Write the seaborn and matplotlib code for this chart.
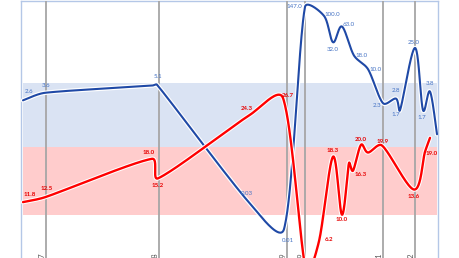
import numpy as np
import matplotlib
matplotlib.use("Agg")
import matplotlib.pyplot as plt
import matplotlib.patheffects as pe
import seaborn as sns

# ---------------- data ----------------
tsh_x = [2, 24, 131, 136, 229, 263, 284, 303, 312, 321, 333, 347, 362, 375, 379, 394, 402, 409, 416]
tsh_val = [2.6, 3.6, 4.9, 5.1, 0.03, 0.01, 147.0, 100.0, 32.0, 63.0, 18.0, 10.0, 2.3, 2.8, 1.7, 25.0, 1.7, 3.8, 0.6]
tsh_lbl = ["2.6", "3.6", "", "5.1", "0.03", "0.01", "147.0", "100.0", "32.0", "63.0", "18.0",
           "10.0", "2.3", "2.8", "1.7", "25.0", "1.7", "3.8", ""]

ft4_x = [2, 24, 131, 137, 229, 262, 285, 298, 312, 321, 328, 332, 340, 347, 361, 393, 404, 409]
ft4_val = [11.8, 12.5, 18.0, 15.2, 24.3, 26.7, 2.0, 6.2, 18.3, 10.0, 17.4, 16.3, 20.0, 18.9, 19.9, 13.6, 19.0, 21.0]
ft4_lbl = ["11.8", "12.5", "18.0", "15.2", "24.3", "26.7", "", "6.2", "18.3", "10.0", "",
           "16.3", "20.0", "", "19.9", "13.6", "19.0", ""]

tsh_range = [0.35, 5.5]
ft4_range = [10.0, 19.8]

event_x = [25, 138, 266, 284, 362, 394]
event_lbl = ["2017", "2018", "2019", "2019", "2021", "2022"]

# ---------------- layout / style ----------------
tsh_lbl_off = [(6, -9), (1, -7.5), (0, 0), (1, -8), (-3, -10), (4, 11), (-11, 0), (8, -1), (0, 7),
               (7, -2), (8, 0), (8, 0), (-6, 2), (0, -8), (-4, 4), (-1, -5), (-1, 7), (0, -8), (0, 0)]
ft4_lbl_off = [(7, -7.5), (1.5, -9), (-3, -6), (0, 7), (-3, -6), (5, -3), (0, 0), (10, -1.5),
               (0, -6), (0, 5), (0, 0), (8, 4), (0, -5), (0, 0), (1, -4), (0, 7), (6.5, 2), (0, 0)]

BLUE = "#1f49a6"
BLUE_TXT = "#4472c4"
RED = "#ff0000"
RED_TXT = "#e60000"
BAND_BLUE = "#dae3f3"
BAND_RED = "#ffcccc"
GRID = "#a6a6a6"
FRAME = "#b4c7e7"

sns.set_theme(style="white")
plt.rcParams["font.family"] = ["Lato", "DejaVu Sans"]

fig = plt.figure(figsize=(4.6, 2.58), dpi=100)
ax_band = fig.add_axes([21 / 460, 0, 417 / 460, 257.5 / 258])
ax_b = ax_band.twinx()
ax_r = ax_band.twinx()

xlim = (0, 417)
red_lim = (3.8, 40.66)
blue_lim = (10 ** -2.543, 10 ** 2.288)

for a in (ax_band, ax_b, ax_r):
    a.set_xlim(*xlim)
    a.set_yticks([])
    for s in a.spines.values():
        s.set_visible(False)
ax_band.set_ylim(*red_lim)
ax_r.set_ylim(*red_lim)
ax_b.set_yscale("log")
ax_b.set_ylim(*blue_lim)
ax_b.yaxis.set_minor_locator(matplotlib.ticker.NullLocator())
ax_b.set_yticks([])

for side in ("left", "right", "top"):
    ax_band.spines[side].set_visible(True)
    ax_band.spines[side].set_color(FRAME)
    ax_band.spines[side].set_linewidth(1.0)

# bands
ax_band.fill_between([min(tsh_x), max(tsh_x)], ft4_range[0], ft4_range[1],
                     color=BAND_RED, lw=0, zorder=1)
ax_b.fill_between([min(tsh_x), max(tsh_x)], tsh_range[0], tsh_range[1],
                  color=BAND_BLUE, lw=0, zorder=1)

# event lines (on top of both bands)
for ex in event_x:
    ax_b.axvline(ex, color=GRID, lw=1.3, zorder=1.5)

# x tick labels (cut by the figure edge, as in the reference)
ax_band.set_xticks(event_x)
ax_band.set_xticklabels(event_lbl, rotation=90, ha="right", va="top",
                        fontsize=5.5, color="#595959")
ax_band.tick_params(axis="x", length=0, pad=-4.3)


def smooth(ax, xs, ys, n=40):
    """Smoothed (Bezier) rendering of a polyline, computed in display space."""
    pts = ax.transData.transform(np.column_stack([xs, ys]).astype(float))
    out = [pts[:1]]
    N = len(pts)
    for i in range(N - 1):
        p0 = pts[i - 1] if i > 0 else pts[i]
        p1, p2 = pts[i], pts[i + 1]
        p3 = pts[i + 2] if i + 2 < N else pts[i + 1]
        L = np.linalg.norm(p2 - p1)
        v1 = (p2 - p0) / 6.0
        v2 = (p3 - p1) / 6.0
        lim = L / 3.0
        n1, n2 = np.linalg.norm(v1), np.linalg.norm(v2)
        if n1 > lim:
            v1 = v1 * lim / n1
        if n2 > lim:
            v2 = v2 * lim / n2
        c1 = p1 + v1
        c2 = p2 - v2
        t = np.linspace(0, 1, n)[1:, None]
        seg = (1 - t) ** 3 * p1 + 3 * (1 - t) ** 2 * t * c1 + 3 * (1 - t) * t ** 2 * c2 + t ** 3 * p2
        out.append(seg)
    arr = np.vstack(out)
    return ax.transData.inverted().transform(arr)


halo = [pe.Stroke(linewidth=3.2, foreground="white"), pe.Normal()]

sb = smooth(ax_b, tsh_x, tsh_val)
sns.lineplot(x=sb[:, 0], y=sb[:, 1], ax=ax_b, sort=False, estimator=None,
             color=BLUE, lw=1.5, zorder=3, path_effects=halo)
sr = smooth(ax_r, ft4_x, ft4_val)
sns.lineplot(x=sr[:, 0], y=sr[:, 1], ax=ax_r, sort=False, estimator=None,
             color=RED, lw=1.7, zorder=3, path_effects=halo)

for x, v, t, (dx, dy) in zip(tsh_x, tsh_val, tsh_lbl, tsh_lbl_off):
    if t:
        ax_b.annotate(t, (x, v), xytext=(dx, -dy), textcoords="offset pixels",
                      ha="center", va="center", fontsize=4.4, color=BLUE_TXT, zorder=5)
for x, v, t, (dx, dy) in zip(ft4_x, ft4_val, ft4_lbl, ft4_lbl_off):
    if t:
        ax_r.annotate(t, (x, v), xytext=(dx, -dy), textcoords="offset pixels",
                      ha="center", va="center", fontsize=4.4, color=RED_TXT,
                      fontweight="bold", zorder=5)

for a in (ax_b, ax_r):
    a.set_xlabel("")
    a.set_ylabel("")
    leg = a.get_legend()
    if leg:
        leg.remove()
ax_band.set_ylabel("")

fig.savefig("out.png", dpi=100)
